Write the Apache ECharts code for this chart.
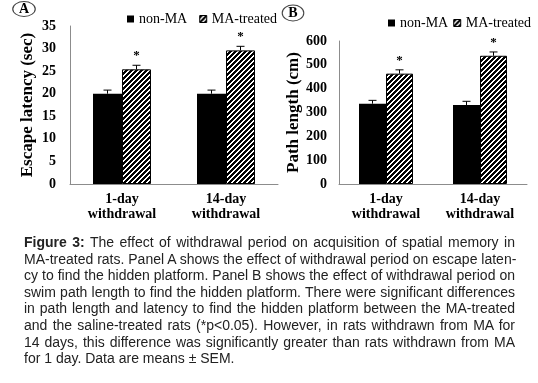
<!DOCTYPE html>
<html>
<head>
<meta charset="utf-8">
<script src="https://cdn.jsdelivr.net/npm/echarts@6/dist/echarts.min.js"></script>
<style>
  body { margin: 0; background: #fff; }
  #main { position: absolute; left: 0; top: 0; width: 538px; height: 383px; }
  #caption { position: absolute; left: 24px; top: 234px; width: 491px;
    font-family: 'Liberation Sans', Arial, sans-serif; font-size: 14px; line-height: 16.6px; color: #222; }
  #caption div { white-space: nowrap; text-align: justify; text-align-last: justify; }
  #caption div.last { text-align-last: left; }
</style>
</head>
<body>
<div id="main"></div>
<div id="caption">
  <div><b>Figure 3:</b> The effect of withdrawal period on acquisition of spatial memory in</div>
  <div>MA-treated rats. Panel A shows the effect of withdrawal period on escape laten-</div>
  <div>cy to find the hidden platform. Panel B shows the effect of withdrawal period on</div>
  <div>swim path length to find the hidden platform. There were significant differences</div>
  <div>in path length and latency to find the hidden platform between the MA-treated</div>
  <div>and the saline-treated rats (*p&lt;0.05). However, in rats withdrawn from MA for</div>
  <div>14 days, this difference was significantly greater than rats withdrawn from MA</div>
  <div class="last">for 1 day. Data are means ± SEM.</div>
</div>
<script>
var cats = ['1-day\nwithdrawal', '14-day\nwithdrawal'];
var seriesNames = ['non-MA', 'MA-treated'];

// panel A - escape latency (sec)
var latNon = [20.0, 20.0];
var latNonErr = [0.8, 0.8];
var latMA = [25.4, 29.6];
var latMAErr = [0.9, 0.9];

// panel B - path length (cm)
var pathNon = [337, 331];
var pathNonErr = [14, 16];
var pathMA = [463, 538];
var pathMAErr = [16, 16];

// significance marks above MA-treated bars
var sigMA = ['*', '*'];

var serif = "'Liberation Serif', 'Times New Roman', serif";

function hatch() {
  var c = document.createElement('canvas');
  c.width = 5; c.height = 5;
  var ctx = c.getContext('2d');
  ctx.fillStyle = '#fff';
  ctx.fillRect(0, 0, 5, 5);
  ctx.fillStyle = '#000';
  for (var x = 0; x < 5; x++) {
    for (var y = 0; y < 5; y++) {
      if ((x + y) % 5 < 3) ctx.fillRect(x, y, 1, 1);
    }
  }
  return c;
}
var hatchFill = { image: hatch(), repeat: 'repeat' };

function errData(vals, errs) {
  var out = [];
  for (var i = 0; i < vals.length; i++) out.push([i, vals[i], errs[i]]);
  return out;
}

function errRender(offset, marks) {
  return function (params, api) {
    var base = api.coord([api.value(0), api.value(1)]);
    var top = api.coord([api.value(0), api.value(1) + api.value(2)]);
    var cx = base[0] + offset;
    var kids = [
      { type: 'line', shape: { x1: cx, y1: base[1], x2: cx, y2: top[1] }, style: { stroke: '#000', lineWidth: 1 } },
      { type: 'line', shape: { x1: cx - 4, y1: top[1], x2: cx + 4, y2: top[1] }, style: { stroke: '#000', lineWidth: 1 } }
    ];
    if (marks && marks[params.dataIndex]) {
      kids.push({ type: 'text', x: cx, y: top[1] - 3,
        style: { text: marks[params.dataIndex], fill: '#000', font: 'bold 13px ' + serif, align: 'center', verticalAlign: 'bottom' } });
    }
    return { type: 'group', children: kids };
  };
}

function xAxisFor(idx) {
  return {
    type: 'category', gridIndex: idx, data: cats,
    axisLine: { lineStyle: { color: '#8c8c8c', width: 1 } },
    axisTick: { show: false },
    axisLabel: { color: '#000', fontFamily: serif, fontWeight: 'bold', fontSize: 14, lineHeight: 15, margin: 8 }
  };
}

function yAxisFor(idx, max, step, name, margin) {
  return {
    type: 'value', gridIndex: idx, min: 0, max: max, interval: step,
    name: name, nameLocation: 'middle', nameGap: 34,
    nameTextStyle: { color: '#000', fontFamily: serif, fontWeight: 'bold', fontSize: 17 },
    axisLine: { show: true, lineStyle: { color: '#8c8c8c', width: 1 } },
    axisTick: { show: false },
    splitLine: { show: false },
    axisLabel: { color: '#000', fontFamily: serif, fontWeight: 'bold', fontSize: 14, margin: margin }
  };
}

function legendFor(left, top, gap) {
  return {
    data: [
      { name: seriesNames[0] },
      { name: seriesNames[1], itemStyle: { borderColor: '#000', borderWidth: 1 } }
    ],
    left: left, top: top, icon: 'rect',
    itemWidth: 7, itemHeight: 7, itemGap: gap, selectedMode: false,
    textStyle: { color: '#000', fontFamily: serif, fontSize: 14 }
  };
}

var chart = echarts.init(document.getElementById('main'), null, { renderer: 'canvas' });

var option = {
  animation: false,
  backgroundColor: '#fff',
  grid: [
    { left: 70, top: 26, width: 208, height: 158 },
    { left: 339, top: 41, width: 188, height: 143 }
  ],
  legend: [legendFor(122, 7, 12), legendFor(383, 11, 5)],
  xAxis: [xAxisFor(0), xAxisFor(1)],
  yAxis: [
    yAxisFor(0, 35, 5, 'Escape latency (sec)', 14),
    yAxisFor(1, 600, 100, 'Path length (cm)', 12)
  ],
  graphic: [
    { type: 'circle', x: 24, y: 9, scaleX: 1.5, shape: { r: 7.5 }, style: { fill: 'none', stroke: '#444', lineWidth: 0.8 } },
    { type: 'text', x: 24, y: 9, style: { text: 'A', font: 'bold 14px ' + serif, fill: '#000', align: 'center', verticalAlign: 'middle' } },
    { type: 'circle', x: 293, y: 13, scaleX: 1.35, shape: { r: 8 }, style: { fill: 'none', stroke: '#444', lineWidth: 0.8 } },
    { type: 'text', x: 293, y: 13, style: { text: 'B', font: 'bold 14px ' + serif, fill: '#000', align: 'center', verticalAlign: 'middle' } }
  ],
  series: [
    { name: 'non-MA', type: 'bar', xAxisIndex: 0, yAxisIndex: 0, data: latNon, barWidth: 29, barGap: '0%',
      itemStyle: { color: '#000' } },
    { name: 'MA-treated', type: 'bar', xAxisIndex: 0, yAxisIndex: 0, data: latMA, barWidth: 29, barGap: '0%',
      itemStyle: { color: hatchFill, borderColor: '#000', borderWidth: 1 } },
    { name: 'non-MA', type: 'bar', xAxisIndex: 1, yAxisIndex: 1, data: pathNon, barWidth: 27, barGap: '0%',
      itemStyle: { color: '#000' } },
    { name: 'MA-treated', type: 'bar', xAxisIndex: 1, yAxisIndex: 1, data: pathMA, barWidth: 27, barGap: '0%',
      itemStyle: { color: hatchFill, borderColor: '#000', borderWidth: 1 } },
    { type: 'custom', xAxisIndex: 0, yAxisIndex: 0, data: errData(latNon, latNonErr), renderItem: errRender(-14.5, null), z: 5 },
    { type: 'custom', xAxisIndex: 0, yAxisIndex: 0, data: errData(latMA, latMAErr), renderItem: errRender(14.5, sigMA), z: 5 },
    { type: 'custom', xAxisIndex: 1, yAxisIndex: 1, data: errData(pathNon, pathNonErr), renderItem: errRender(-13.5, null), z: 5 },
    { type: 'custom', xAxisIndex: 1, yAxisIndex: 1, data: errData(pathMA, pathMAErr), renderItem: errRender(13.5, sigMA), z: 5 }
  ]
};

chart.setOption(option);
</script>
</body>
</html>
